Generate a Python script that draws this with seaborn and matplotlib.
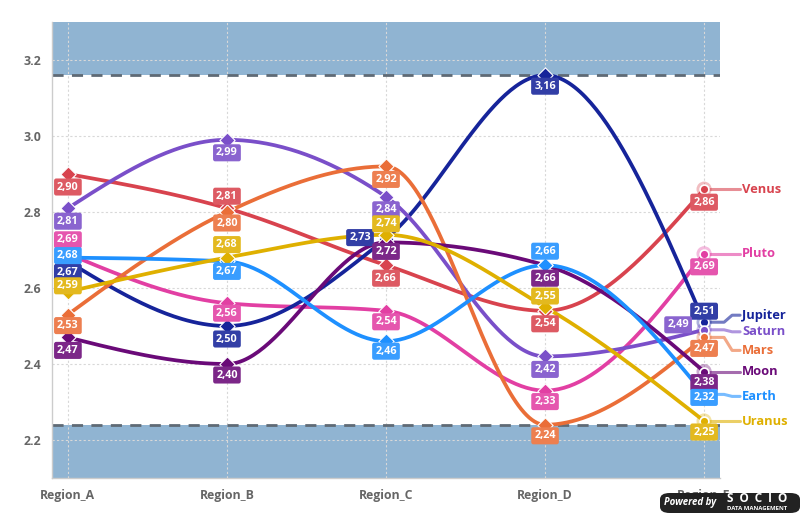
import numpy as np
import matplotlib
matplotlib.use("Agg")
import matplotlib.pyplot as plt
import matplotlib.colors as mcolors
from matplotlib.patches import FancyBboxPatch
from matplotlib.transforms import IdentityTransform
import seaborn as sns

# ---------------- data ----------------
regions = ["Region_A", "Region_B", "Region_C", "Region_D", "Region_E"]
series_names = ["Venus", "Pluto", "Jupiter", "Saturn", "Mars", "Moon", "Earth", "Uranus"]
venus   = [2.90, 2.81, 2.66, 2.54, 2.86]
pluto   = [2.69, 2.56, 2.54, 2.33, 2.69]
jupiter = [2.67, 2.50, 2.73, 3.16, 2.51]
saturn  = [2.81, 2.99, 2.84, 2.42, 2.49]
mars    = [2.53, 2.80, 2.92, 2.24, 2.47]
moon    = [2.47, 2.40, 2.72, 2.66, 2.38]
earth   = [2.68, 2.67, 2.46, 2.66, 2.32]
uranus  = [2.59, 2.68, 2.74, 2.55, 2.25]
y_ticks = [2.2, 2.4, 2.6, 2.8, 3.0, 3.2]
band_low = 2.24
band_high = 3.16

values = {"Venus": venus, "Pluto": pluto, "Jupiter": jupiter, "Saturn": saturn,
          "Mars": mars, "Moon": moon, "Earth": earth, "Uranus": uranus}

# ---------------- styles ----------------
colors = {"Venus": "#d8434e", "Pluto": "#e23fa3", "Jupiter": "#16249a",
          "Saturn": "#7a4fc9", "Mars": "#ea6e38", "Moon": "#6a0a78",
          "Earth": "#1e90ff", "Uranus": "#dfb000"}

# label offsets in pixels (dx, dy); default below the point
label_offsets = {
    ("Pluto", 0): (0, 14), ("Earth", 0): (0, 2), ("Uranus", 0): (0, 6),
    ("Jupiter", 0): (0, -11), ("Mars", 0): (0, -11),
    ("Venus", 1): (0, 12), ("Mars", 1): (0, -11), ("Uranus", 1): (0, 13),
    ("Earth", 1): (0, -10), ("Pluto", 1): (0, -10), ("Moon", 1): (0, -11),
    ("Uranus", 2): (0, 11), ("Jupiter", 2): (-26, 1), ("Moon", 2): (0, -9),
    ("Pluto", 2): (0, -11), ("Earth", 2): (0, -10),
    ("Jupiter", 3): (0, -11), ("Earth", 3): (0, 14), ("Uranus", 3): (0, 11),
    ("Pluto", 3): (0, -11), ("Mars", 3): (0, -11),
    ("Jupiter", 4): (0, 11), ("Saturn", 4): (-26, 5), ("Mars", 4): (0, -11),
    ("Moon", 4): (0, -11), ("Earth", 4): (0, -3), ("Uranus", 4): (0, -11),
}
default_offset = (0, -13)
# end-name label vertical offsets (pixels)
name_offsets = {"Jupiter": 7, "Saturn": -2, "Mars": -13, "Earth": -2}

FONT = ["Open Sans", "DejaVu Sans"]

sns.set_style("white")
plt.rcParams["font.family"] = FONT

W, H, DPI = 807, 521, 100
fig = plt.figure(figsize=(W / DPI, H / DPI), dpi=DPI)
L, R, T, B = 52, 720, 22, 478
ax = fig.add_axes([L / W, 1 - B / H, (R - L) / W, (B - T) / H])
ax.set_xlim(-0.1, 4.1)
ax.set_ylim(2.1, 3.3)


def monotone_curve(x, y, n=60):
    x = np.asarray(x, float)
    y = np.asarray(y, float)
    h = np.diff(x)
    s = np.diff(y) / h
    t = np.zeros_like(y)
    sg = lambda v: -1.0 if v < 0 else 1.0
    for i in range(1, len(y) - 1):
        p = (s[i - 1] * h[i] + s[i] * h[i - 1]) / (h[i - 1] + h[i])
        t[i] = (sg(s[i - 1]) + sg(s[i])) * min(abs(s[i - 1]), abs(s[i]), 0.5 * abs(p))
    t[0] = (3 * s[0] - t[1]) / 2
    t[-1] = (3 * s[-1] - t[-2]) / 2
    xs, ys = [], []
    for i in range(len(y) - 1):
        u = np.linspace(0, 1, n, endpoint=(i == len(y) - 2))
        h00 = 2 * u**3 - 3 * u**2 + 1
        h10 = u**3 - 2 * u**2 + u
        h01 = -2 * u**3 + 3 * u**2
        h11 = u**3 - u**2
        xs.append(x[i] + u * h[i])
        ys.append(h00 * y[i] + h10 * h[i] * t[i] + h01 * y[i + 1] + h11 * h[i] * t[i + 1])
    return np.concatenate(xs), np.concatenate(ys)


# bands
ax.axhspan(band_high, 3.3, color="#4682b4", alpha=0.6, lw=0, zorder=0.2)
ax.axhspan(2.1, band_low, color="#4682b4", alpha=0.6, lw=0, zorder=0.2)
for yv in (band_high, band_low):
    ax.axhline(yv, color="#5f6a75", lw=2, ls=(0, (4, 3)), zorder=1.0)

# grid
ax.set_axisbelow(True)
ax.set_yticks(y_ticks)
ax.set_xticks(range(len(regions)))
ax.set_xticklabels(regions)
ax.grid(True, color="#d8d8d8", ls=(0, (2, 2)), lw=0.8, zorder=0.5)

xpos = np.arange(len(regions))
for name in series_names:
    c = colors[name]
    xs, ys = monotone_curve(xpos, values[name])
    sns.lineplot(x=xs, y=ys, ax=ax, color=c, lw=2.7, estimator=None, sort=False,
                 zorder=3, legend=False)
for name in series_names:
    c = colors[name]
    sns.scatterplot(x=xpos[:-1], y=values[name][:-1], ax=ax, marker="D", s=60,
                    color=c, edgecolor="white", linewidth=0.8, zorder=4, legend=False)
    sns.scatterplot(x=[xpos[-1]], y=[values[name][-1]], ax=ax, marker="o", s=120,
                    color=c, alpha=0.35, edgecolor="none", zorder=4, legend=False)
    sns.scatterplot(x=[xpos[-1]], y=[values[name][-1]], ax=ax, marker="o", s=40,
                    color=c, edgecolor="white", linewidth=1.2, zorder=4.5, legend=False)

# value labels
for name in series_names:
    c = colors[name]
    box = tuple(0.88 * np.array(mcolors.to_rgb(c)) + 0.12)
    for i, v in enumerate(values[name]):
        dx, dy = label_offsets.get((name, i), default_offset)
        ax.annotate(f"{v:.2f}".replace(".", ","), xy=(xpos[i], v), xytext=(dx, dy),
                    textcoords="offset pixels", ha="center", va="center",
                    fontsize=7.8, fontweight="bold", color="white", zorder=6,
                    bbox=dict(boxstyle="round,pad=0.28,rounding_size=0.2", fc=box, ec="none"))

# end name labels with connectors
fig.canvas.draw()
for name in series_names:
    c = colors[name]
    v = values[name][-1]
    px, py = ax.transData.transform((xpos[-1], v))
    dy = name_offsets.get(name, 0)
    xs_c = [px + 4, px + 20, px + 28, px + 36]
    ys_c = [py, py, py + dy, py + dy]
    ax.plot(xs_c, ys_c, transform=IdentityTransform(), color=c, alpha=0.6, lw=2.2,
            zorder=3, clip_on=False)
    ax.text(px + 38, py + dy, name, transform=IdentityTransform(), color=c,
            fontsize=9.3, fontweight="bold", ha="left", va="center", clip_on=False)

# axes styling
for sp in ["top", "right"]:
    ax.spines[sp].set_visible(False)
for sp in ["left", "bottom"]:
    ax.spines[sp].set_color("#cccccc")
    ax.spines[sp].set_linewidth(1)
ax.tick_params(axis="both", length=0, labelsize=8.8, labelcolor="#666666", pad=8)
for lab in ax.get_xticklabels() + ax.get_yticklabels():
    lab.set_fontweight("bold")
ax.set_yticklabels([f"{t:.1f}" for t in y_ticks])
ax.set_xlabel("")
ax.set_ylabel("")

# powered-by badge
bx0, by0, bw, bh = 660 / W, 1 - 513 / H, 140 / W, 20 / H
fig.patches.append(FancyBboxPatch((bx0, by0), bw, bh, boxstyle="round,pad=0,rounding_size=0.012",
                                  transform=fig.transFigure, fc="#222222", ec="none", zorder=10))
fig.text(690 / W, 1 - 503 / H, "Powered by", color="white", fontsize=7, fontweight="bold",
         style="italic", ha="center", va="center", zorder=11)
fig.text(757 / W, 1 - 498.5 / H, "S  O  C  I  O", color="white", fontsize=8.5, fontweight="bold",
         ha="center", va="center", zorder=11)
fig.text(757 / W, 1 - 508 / H, "DATA MANAGEMENT", color="white", fontsize=4.3, fontweight="bold",
         ha="center", va="center", zorder=11)

fig.savefig("out.png", dpi=DPI)
